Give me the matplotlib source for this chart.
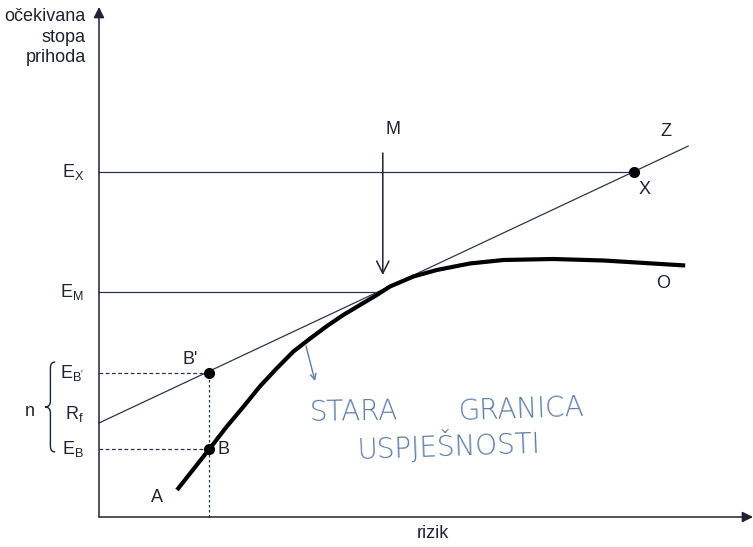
import numpy as np
import matplotlib
matplotlib.use("Agg")
import matplotlib.pyplot as plt
from matplotlib.path import Path
from matplotlib.patches import PathPatch

plt.rcParams['font.family'] = ['Liberation Sans', 'DejaVu Sans']
plt.rcParams['mathtext.fontset'] = 'custom'
plt.rcParams['mathtext.rm'] = 'Liberation Sans'
plt.rcParams['mathtext.it'] = 'Liberation Sans'

# expected return levels (arbitrary units)
r_f = 1.88
e_b = 1.36
e_b_prime = 2.88
e_m = 4.50
e_x = 6.90
cml_slope = 0.564

# risk positions
risk_b = 1.83
risk_m = 4.68
risk_x = 8.92
risk_z = 9.82

# old efficient frontier (A ... O)
frontier_risk = [1.30, 1.84, 2.13, 2.41, 2.68, 2.96, 3.24, 3.52, 3.80, 4.07, 4.35, 4.63,
                 4.85, 5.24, 5.63, 6.18, 6.74, 7.57, 8.41, 8.96, 9.77]
frontier_ret = [0.54, 1.36, 1.81, 2.21, 2.61, 2.97, 3.31, 3.57, 3.82, 4.04, 4.24, 4.44,
                4.61, 4.81, 4.94, 5.07, 5.14, 5.16, 5.13, 5.09, 5.03]

ink = '#1e2233'
line_c = '#2a3550'
pen = '#5a7ba6'

fig = plt.figure(figsize=(7.53, 5.47), dpi=100)
ax = fig.add_axes([0, 0, 1, 1])
ax.set_xlim(-1.65, 10.9)
ax.set_ylim(-0.6, 10.34)
ax.axis('off')

# axes with arrows
ax.annotate('', xy=(0, 10.2), xytext=(0, 0),
            arrowprops=dict(arrowstyle='-|>', mutation_scale=16, lw=1.1, color=ink, shrinkA=0, shrinkB=0))
ax.annotate('', xy=(10.9, 0), xytext=(0, 0),
            arrowprops=dict(arrowstyle='-|>', mutation_scale=16, lw=1.1, color=ink, shrinkA=0, shrinkB=0))

# capital market line R_f -> Z
cml_x = np.array([0, risk_z])
ax.plot(cml_x, r_f + cml_slope * cml_x, color=line_c, lw=0.9)

# horizontal level lines
ax.plot([0, risk_x], [e_x, e_x], color=line_c, lw=0.9)
ax.plot([0, risk_m], [e_m, e_m], color=line_c, lw=0.9)

# dashed guides to B and B'
ax.plot([0, risk_b], [e_b_prime, e_b_prime], color=line_c, lw=0.9, ls=(0, (3, 2)))
ax.plot([0, risk_b], [e_b, e_b], color=line_c, lw=0.9, ls=(0, (3, 2)))
ax.plot([risk_b, risk_b], [0, e_b_prime], color=line_c, lw=0.9, ls=(0, (2, 2)))

# frontier
ax.plot(frontier_risk, frontier_ret, color='black', lw=3, solid_capstyle='butt', solid_joinstyle='round')

# points
ax.plot([risk_b, risk_b, risk_x], [e_b, e_b_prime, e_x], 'o', color='black', ms=7)

# arrow M
ax.annotate('', xy=(risk_m + 0.05, e_m + 0.34), xytext=(risk_m + 0.05, 7.28),
            arrowprops=dict(arrowstyle='->', mutation_scale=22, lw=1.1, color=ink, shrinkA=0, shrinkB=0))

fs = 13
ax.text(4.9, 7.74, 'M', fontsize=fs, ha='center', va='center', color=ink)
ax.text(9.45, 7.7, 'Z', fontsize=fs, ha='center', va='center', color=ink)
ax.text(9.1, 6.54, 'X', fontsize=fs, ha='center', va='center', color=ink)
ax.text(9.4, 4.68, 'O', fontsize=fs, ha='center', va='center', color=ink)
ax.text(1.52, 3.14, "B'", fontsize=fs, ha='center', va='center', color=ink)
ax.text(2.07, 1.34, 'B', fontsize=fs, ha='center', va='center', color=ink)
ax.text(0.97, 0.38, 'A', fontsize=fs, ha='center', va='center', color=ink)

# left labels
lx = -0.25
ax.text(lx, e_x, r'$\mathregular{E_X}$', fontsize=fs, ha='right', va='center', color=ink)
ax.text(lx, e_m, r'$\mathregular{E_M}$', fontsize=fs, ha='right', va='center', color=ink)
ax.text(lx, e_b_prime, r"$\mathregular{E_{B'}}$", fontsize=fs, ha='right', va='center', color=ink)
ax.text(lx, r_f + 0.18, r'$\mathregular{R_f}$', fontsize=fs, ha='right', va='center', color=ink)
ax.text(lx, e_b, r'$\mathregular{E_B}$', fontsize=fs, ha='right', va='center', color=ink)
ax.text(-1.15, 2.1, 'n', fontsize=fs, ha='center', va='center', color=ink)

# brace
bx_r, bx_m, bx_t = -0.73, -0.81, -0.90
y1, y0, ym, d = 3.1, 1.3, 2.2, 0.12
verts = [(bx_r, y1), (bx_m, y1), (bx_m, y1 - d), (bx_m, ym + d), (bx_m, ym), (bx_t, ym),
         (bx_m, ym), (bx_m, ym - d), (bx_m, y0 + d), (bx_m, y0), (bx_r, y0)]
codes = [Path.MOVETO, Path.CURVE3, Path.CURVE3, Path.LINETO, Path.CURVE3, Path.CURVE3,
         Path.CURVE3, Path.CURVE3, Path.LINETO, Path.CURVE3, Path.CURVE3]
ax.add_patch(PathPatch(Path(verts, codes), fill=False, lw=1.0, color=ink))

ax.text(-0.22, 9.6, 'očekivana\nstopa\nprihoda', fontsize=fs, ha='right', va='center',
        color=ink, linespacing=1.25)
ax.text(5.57, -0.33, 'rizik', fontsize=fs, ha='center', va='center', color=ink)

# handwritten note
ax.annotate('', xy=(3.6, 2.72), xytext=(3.45, 3.42),
            arrowprops=dict(arrowstyle='->', mutation_scale=10, lw=1.0, color=pen, shrinkA=0, shrinkB=0))
hw = dict(fontsize=20, ha='left', va='center', color=pen, family=['DejaVu Sans'], fontweight='light')
ax.text(3.5, 2.1, 'STARA', rotation=1, **hw)
ax.text(5.98, 2.14, 'GRANICA', rotation=2, **hw)
ax.text(4.3, 1.42, 'USPJEŠNOSTI', rotation=2, **hw)

fig.savefig('out.png', dpi=100)
